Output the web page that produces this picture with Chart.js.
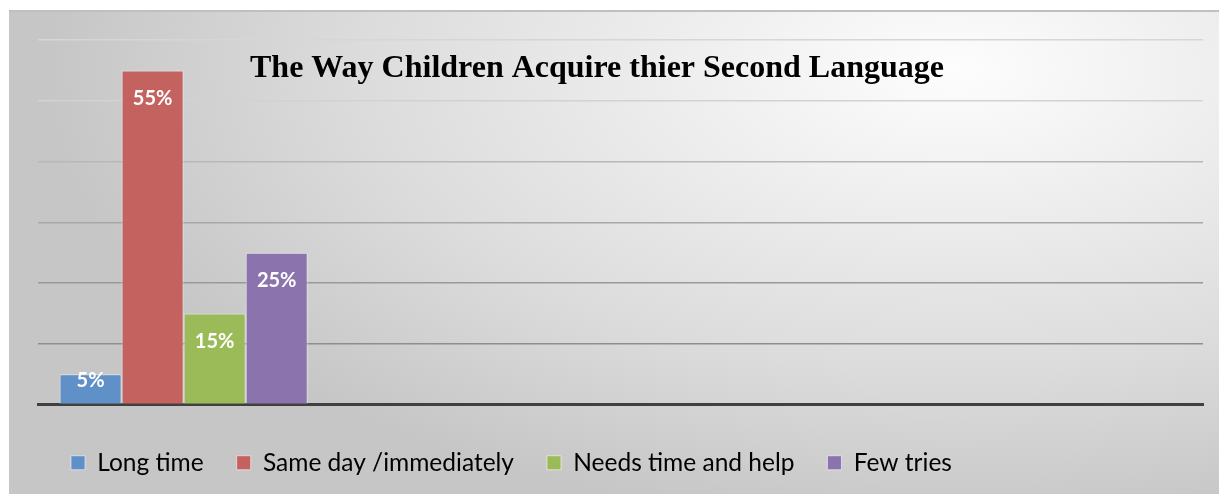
<!DOCTYPE html>
<html>
<head>
<meta charset="utf-8">
<script src="https://cdn.jsdelivr.net/npm/chart.js@4.4.1/dist/chart.umd.min.js"></script>
<style>
    html, body { margin: 0; padding: 0; background: #ffffff; }
    #frame {
        position: absolute; left: 0; top: 0; width: 1219px; height: 494px;
    }
    #bg {
        position: absolute; left: 9px; top: 10px; width: 1210px; height: 484px;
        border-top: 2px solid #c0c0c0;
        box-sizing: border-box;
        background: radial-gradient(ellipse 75% 95% at 78% 12%, #fdfdfd 0%, #eeeeee 30%, #dcdcdc 65%, #c6c6c6 100%);
    }
    canvas { position: absolute; left: 0; top: 0; }
</style>
</head>
<body>
<div id="frame">
    <div id="bg"></div>
    <canvas id="langChart" width="1219" height="494"></canvas>
</div>
<script>
// Chart data
const titleText = "The Way Children Acquire thier Second Language";
const categories = ["", "", "", ""];
const seriesNames = ["Long time", "Same day /immediately", "Needs time and help", "Few tries"];
const seriesValues = [5, 55, 15, 25];
const seriesColors = ["#6090c8", "#c4625f", "#9bbb59", "#8b73ad"];
const yTicks = [0, 10, 20, 30, 40, 50, 60];

document.addEventListener("DOMContentLoaded", function () {
    // each series is one bar in the first category
    const datasets = seriesNames.map((name, i) => ({
        label: name,
        data: categories.map((c, j) => (j === 0 ? seriesValues[i] : null)),
        backgroundColor: seriesColors[i],
        borderColor: "rgba(255,255,255,0.55)",
        borderWidth: 1,
        categoryPercentage: 0.852,
        barPercentage: 1.0
    }));

    const gridColors = {0: "rgba(0,0,0,0)", 10: "#8e8e8e", 20: "#999999", 30: "#a8a8a8", 40: "#b8b8b8", 50: "#d2d2d2", 60: "#d6d6d6"};

    // title drawn inside the plot area, like the original
    const titlePlugin = {
        id: "innerTitle",
        afterDraw(chart) {
            const ctx = chart.ctx;
            ctx.save();
            ctx.font = "bold 32px 'Liberation Serif', 'Times New Roman', serif";
            ctx.fillStyle = "#000000";
            ctx.textAlign = "center";
            ctx.textBaseline = "alphabetic";
            ctx.fillText(titleText, 597, 77);
            ctx.restore();
        }
    };

    // value labels near the top of each bar
    const labelPlugin = {
        id: "barLabels",
        afterDatasetsDraw(chart) {
            const ctx = chart.ctx;
            ctx.save();
            ctx.font = "bold 20px Lato, 'Open Sans', sans-serif";
            ctx.fillStyle = "#ffffff";
            ctx.textAlign = "center";
            ctx.textBaseline = "middle";
            chart.data.datasets.forEach((ds, i) => {
                const meta = chart.getDatasetMeta(i);
                meta.data.forEach((bar, j) => {
                    const v = ds.data[j];
                    if (v === null) return;
                    const h = bar.base - bar.y;
                    const off = Math.min(28, h / 2 - 8);
                    ctx.fillText(v + "%", bar.x, bar.y + off);
                });
            });
            ctx.restore();
        }
    };

    const ctx = document.getElementById("langChart").getContext("2d");
    new Chart(ctx, {
        type: "bar",
        data: { labels: categories, datasets: datasets },
        options: {
            responsive: false,
            animation: false,
            layout: { padding: { left: 38, right: 16, top: 40, bottom: 9 } },
            plugins: {
                title: { display: false },
                tooltip: { enabled: false },
                legend: {
                    position: "bottom",
                    align: "start",
                    labels: {
                        boxWidth: 14,
                        boxHeight: 14,
                        padding: 33,
                        color: "#000000",
                        font: { family: "Lato, 'Open Sans', sans-serif", size: 24.5 }
                    }
                }
            },
            scales: {
                x: {
                    grid: { display: false },
                    ticks: { display: false },
                    border: { display: true, color: "#404040", width: 3 },
                    afterFit: s => { s.height = 13; }
                },
                y: {
                    min: 0,
                    max: 60,
                    afterBuildTicks: s => { s.ticks = yTicks.map(v => ({ value: v })); },
                    ticks: { display: false },
                    grid: {
                        drawTicks: false,
                        lineWidth: 1.5,
                        color: c => gridColors[c.tick.value] || "#aaaaaa"
                    },
                    border: { display: false },
                    afterFit: s => { s.width = 0; }
                }
            }
        },
        plugins: [titlePlugin, labelPlugin]
    });
});
</script>
</body>
</html>
